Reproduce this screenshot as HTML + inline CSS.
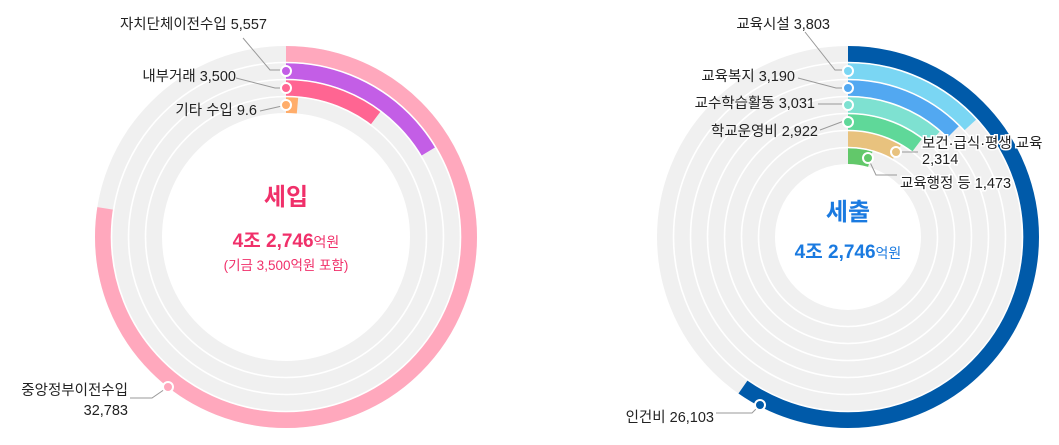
<!DOCTYPE html>
<html><head><meta charset="utf-8"><style>
html,body{margin:0;padding:0;background:#fff;}
svg{display:block;font-family:"Liberation Sans","Noto Sans CJK KR",sans-serif;}
.l{font-size:14.5px;fill:#222;}
.ld{stroke:#999;stroke-width:1;fill:none;}
.halo{stroke:#fff;stroke-width:3;paint-order:stroke;}
</style></head><body>
<svg width="1059" height="445" viewBox="0 0 1059 445">
<g fill="none" stroke-width="16">
 <g stroke="#f0f0f0">
  <circle cx="286" cy="237" r="183"/><circle cx="286" cy="237" r="166"/>
  <circle cx="286" cy="237" r="149"/><circle cx="286" cy="237" r="132"/>
 </g>
 <g transform="rotate(-90 286 237)">
  <circle cx="286" cy="237" r="183" stroke="#ffa8bd" pathLength="360" stroke-dasharray="279 400"/>
  <circle cx="286" cy="237" r="166" stroke="#c35ee6" pathLength="360" stroke-dasharray="59 400"/>
  <circle cx="286" cy="237" r="149" stroke="#ff6592" pathLength="360" stroke-dasharray="37 400"/>
  <circle cx="286" cy="237" r="132" stroke="#ffad6b" pathLength="360" stroke-dasharray="5 400"/>
 </g>
 <g stroke="#f0f0f0">
  <circle cx="848" cy="237" r="183"/><circle cx="848" cy="237" r="166"/>
  <circle cx="848" cy="237" r="149"/><circle cx="848" cy="237" r="132"/>
  <circle cx="848" cy="237" r="115"/><circle cx="848" cy="237" r="98"/>
  <circle cx="848" cy="237" r="81"/>
 </g>
 <g transform="rotate(-90 848 237)">
  <circle cx="848" cy="237" r="183" stroke="#005aa9" pathLength="360" stroke-dasharray="215 400"/>
  <circle cx="848" cy="237" r="166" stroke="#7ad6f3" pathLength="360" stroke-dasharray="47.5 400"/>
  <circle cx="848" cy="237" r="149" stroke="#52a8f1" pathLength="360" stroke-dasharray="45 400"/>
  <circle cx="848" cy="237" r="132" stroke="#7ee1d1" pathLength="360" stroke-dasharray="41 400"/>
  <circle cx="848" cy="237" r="115" stroke="#5fd899" pathLength="360" stroke-dasharray="37 400"/>
  <circle cx="848" cy="237" r="98" stroke="#e8c27e" pathLength="360" stroke-dasharray="30 400"/>
  <circle cx="848" cy="237" r="81" stroke="#62c86a" pathLength="360" stroke-dasharray="16 400"/>
 </g>
</g>
<g fill="none" stroke="#fff" stroke-width="1.6">
 <circle cx="286" cy="237" r="174.5"/><circle cx="286" cy="237" r="157.5"/><circle cx="286" cy="237" r="140.5"/>
 <circle cx="848" cy="237" r="174.5"/><circle cx="848" cy="237" r="157.5"/><circle cx="848" cy="237" r="140.5"/>
 <circle cx="848" cy="237" r="123.5"/><circle cx="848" cy="237" r="106.5"/><circle cx="848" cy="237" r="89.5"/>
</g>
<path class="ld" d="M243 38 L270 70 L282 70"/>
<path class="ld" d="M236 78 L275 88 L282 88"/>
<path class="ld" d="M260 111 L282 106"/>
<path class="ld" d="M130 398 L152 398 L168 387"/>
<path class="ld" d="M805 32 L835 70 L844 70"/>
<path class="ld" d="M798 78 L836 88 L844 88"/>
<path class="ld" d="M818 104 L844 104"/>
<path class="ld" d="M820 130 L844 121"/>
<path class="ld" d="M896 152 L918 152"/>
<path class="ld" d="M868 158 L876 175 L897 175"/>
<path class="ld" d="M716 413 L752 413 L760 405"/>
<g stroke="#fff" stroke-width="2">
 <circle cx="286" cy="71" r="5" fill="#c35ee6"/>
 <circle cx="286" cy="88" r="5" fill="#ff6592"/>
 <circle cx="286" cy="105" r="5" fill="#ffad6b"/>
 <circle cx="168" cy="387" r="5" fill="#ffa8bd"/>
 <circle cx="848" cy="71" r="5" fill="#7ad6f3"/>
 <circle cx="848" cy="88" r="5" fill="#52a8f1"/>
 <circle cx="848" cy="105" r="5" fill="#7ee1d1"/>
 <circle cx="848" cy="122" r="5" fill="#5fd899"/>
 <circle cx="896" cy="152" r="5" fill="#e8c27e"/>
 <circle cx="868" cy="158" r="5" fill="#62c86a"/>
 <circle cx="760" cy="405" r="5" fill="#005aa9"/>
</g>
<g class="l">
 <text x="267" y="29" text-anchor="end">자치단체이전수입 5,557</text>
 <text x="236" y="81" text-anchor="end">내부거래 3,500</text>
 <text x="257" y="115" text-anchor="end">기타 수입 9.6</text>
 <text x="128" y="395" text-anchor="end">중앙정부이전수입</text>
 <text x="128" y="415" text-anchor="end">32,783</text>
 <text x="830" y="29" text-anchor="end">교육시설 3,803</text>
 <text x="795" y="81" text-anchor="end">교육복지 3,190</text>
 <text x="815" y="108" text-anchor="end">교수학습활동 3,031</text>
 <text x="818" y="136" text-anchor="end">학교운영비 2,922</text>
 <text x="922" y="148" class="halo">보건·급식·평생 교육</text>
 <text x="922" y="164" class="halo">2,314</text>
 <text x="900" y="188" class="halo">교육행정 등 1,473</text>
 <text x="714" y="422" text-anchor="end">인건비 26,103</text>
</g>
<text x="286" y="205" text-anchor="middle" font-size="24" font-weight="bold" fill="#f0306a">세입</text>
<text x="286" y="247" text-anchor="middle" font-size="19" font-weight="bold" fill="#f0306a">4조 2,746<tspan font-size="14" font-weight="normal">억원</tspan></text>
<text x="286" y="270" text-anchor="middle" font-size="13.5" fill="#f0306a">(기금 3,500억원 포함)</text>
<text x="848" y="220" text-anchor="middle" font-size="24" font-weight="bold" fill="#1a7ae0">세출</text>
<text x="848" y="258" text-anchor="middle" font-size="19" font-weight="bold" fill="#1a7ae0">4조 2,746<tspan font-size="14" font-weight="normal">억원</tspan></text>
</svg>
</body></html>
